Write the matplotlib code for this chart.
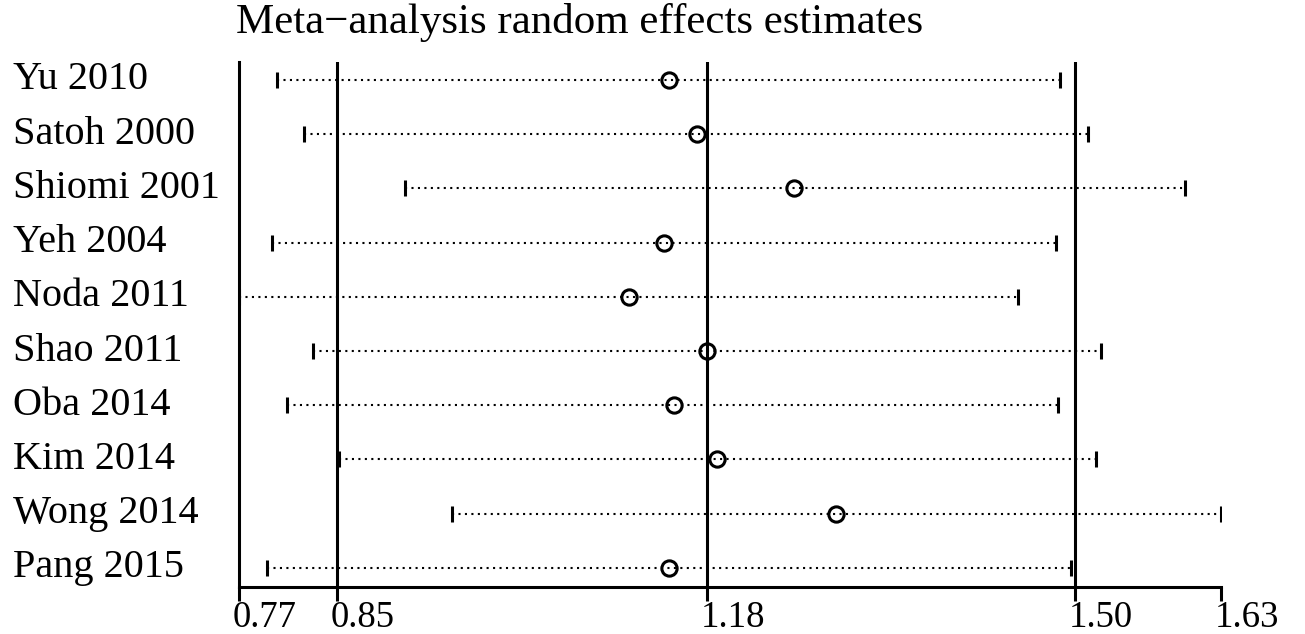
import matplotlib
matplotlib.use("Agg")
import matplotlib.pyplot as plt
from matplotlib.transforms import blended_transform_factory, ScaledTranslation

plt.rcParams['font.family'] = ['Liberation Serif', 'DejaVu Serif']

# study omitted -> pooled estimate with 95% CI
studies = ["Yu 2010", "Satoh 2000", "Shiomi 2001", "Yeh 2004", "Noda 2011",
           "Shao 2011", "Oba 2014", "Kim 2014", "Wong 2014", "Pang 2015"]
estimate = [1.145, 1.170, 1.255, 1.141, 1.110, 1.179, 1.150, 1.188, 1.292, 1.145]
lower = [0.800, 0.824, 0.913, 0.796, 0.767, 0.832, 0.809, 0.855, 0.954, 0.792]
upper = [1.489, 1.514, 1.599, 1.486, 1.452, 1.525, 1.488, 1.521, 1.631, 1.499]

# overall estimate and CI reference lines
ref_lines = [0.8532, 1.1788, 1.5025]
tick_pos = [0.767, 0.8532, 1.1788, 1.5025, 1.631]
tick_labels = ["0.77", "0.85", "1.18", "1.50", "1.63"]

fig = plt.figure(figsize=(13.05, 6.34), dpi=100)
ax = fig.add_axes([239/1305, 47/634, 982/1305, 525/634])

ypos = list(range(1, len(studies) + 1))
for y, lo, est, hi in zip(ypos, lower, estimate, upper):
    ax.plot([lo, hi], [y, y], color="black", lw=1.5, linestyle=(0, (1, 2.1)))
    ax.plot([lo, hi], [y, y], linestyle="none", marker="|", markersize=11,
            mew=2.2, color="black")
    ax.plot(est, y, marker="o", markersize=11, mfc="none", mec="black", mew=2.2)

for x in ref_lines:
    ax.axvline(x, color="black", lw=2.2)

ax.set_xlim(tick_pos[0], tick_pos[-1])
ax.set_ylim(10.354, 0.668)

ax.spines["top"].set_visible(False)
ax.spines["right"].set_visible(False)
ax.spines["left"].set_linewidth(2.2)
ax.spines["bottom"].set_linewidth(2.2)
ax.set_yticks([])
ax.set_xticks(tick_pos)
ax.set_xticklabels(tick_labels, fontsize=26.5)
ax.tick_params(axis="x", length=10, width=2.2, pad=0)
offset = ScaledTranslation(-6/100, 0, fig.dpi_scale_trans)
for lab in ax.get_xticklabels():
    lab.set_horizontalalignment("left")
    lab.set_transform(lab.get_transform() + offset)

trans = blended_transform_factory(fig.transFigure, ax.transData)
for y, name in zip(ypos, studies):
    ax.text(13/1305, y, name, transform=trans, ha="left", va="center",
            fontsize=29)

fig.text(580/1305, 1 - 23/634, "Meta\u2212analysis random effects estimates",
         ha="center", va="center", fontsize=31)

fig.savefig("out.png", dpi=100)
